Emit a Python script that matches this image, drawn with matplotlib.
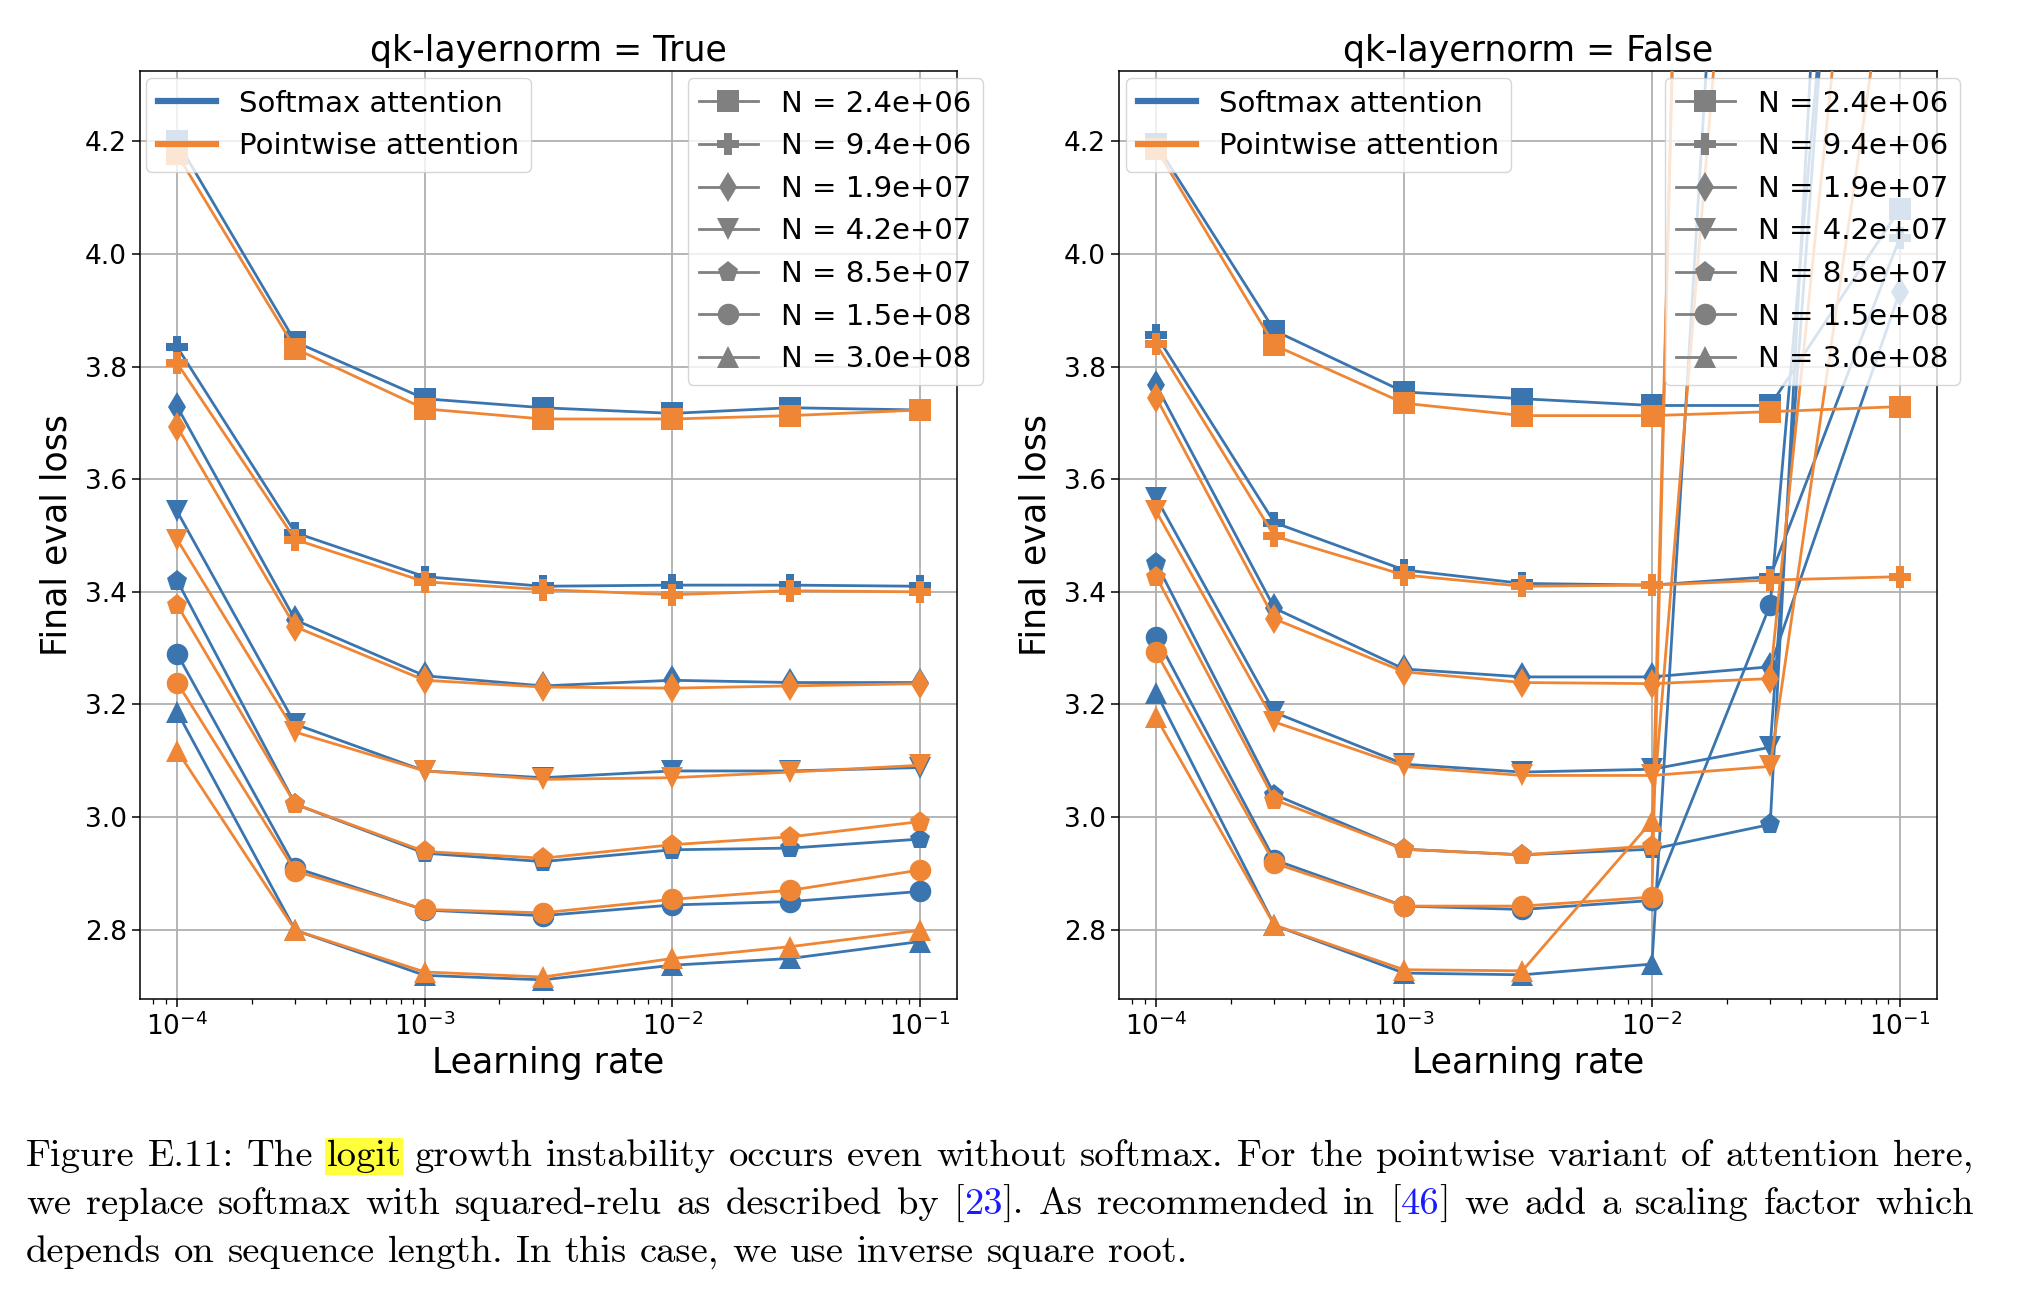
import numpy as np
import matplotlib
matplotlib.use("Agg")
import matplotlib.pyplot as plt
from matplotlib.lines import Line2D

# ---------------- data ----------------
learning_rates = [1e-4, 3e-4, 1e-3, 3e-3, 1e-2, 3e-2, 1e-1]
n_labels = ["2.4e+06", "9.4e+06", "1.9e+07", "4.2e+07", "8.5e+07", "1.5e+08", "3.0e+08"]
markers = ["s", "P", "d", "v", "p", "o", "^"]
panel_titles = ["qk-layernorm = True", "qk-layernorm = False"]
attention_labels = ["Softmax attention", "Pointwise attention"]
y_ticks = [2.8, 3.0, 3.2, 3.4, 3.6, 3.8, 4.0, 4.2]

# qk-layernorm = True, softmax attention (one row per N)
ln_true_softmax = [
    [4.200, 3.844, 3.743, 3.727, 3.717, 3.727, 3.723],
    [3.835, 3.505, 3.427, 3.410, 3.412, 3.412, 3.410],
    [3.729, 3.350, 3.251, 3.233, 3.243, 3.239, 3.239],
    [3.543, 3.165, 3.082, 3.070, 3.082, 3.082, 3.088],
    [3.420, 3.023, 2.936, 2.921, 2.942, 2.945, 2.961],
    [3.290, 2.910, 2.835, 2.825, 2.844, 2.850, 2.868],
    [3.187, 2.799, 2.719, 2.711, 2.737, 2.749, 2.779],
]
# qk-layernorm = True, pointwise attention
ln_true_pointwise = [
    [4.177, 3.832, 3.725, 3.707, 3.707, 3.713, 3.723],
    [3.806, 3.493, 3.418, 3.404, 3.395, 3.402, 3.400],
    [3.693, 3.338, 3.243, 3.231, 3.229, 3.233, 3.237],
    [3.493, 3.151, 3.082, 3.067, 3.070, 3.080, 3.092],
    [3.377, 3.023, 2.939, 2.927, 2.951, 2.965, 2.992],
    [3.239, 2.904, 2.836, 2.830, 2.854, 2.870, 2.906],
    [3.118, 2.799, 2.725, 2.716, 2.749, 2.770, 2.799],
]
# qk-layernorm = False, softmax attention (values above the axis top are estimates; nan = not visible)
ln_false_softmax = [
    [4.195, 3.864, 3.755, 3.743, 3.731, 3.731, 4.080],
    [3.856, 3.523, 3.439, 3.415, 3.412, 3.427, 4.029],
    [3.767, 3.371, 3.263, 3.249, 3.249, 3.267, 3.933],
    [3.567, 3.186, 3.094, 3.080, 3.085, 3.124, 6.300],
    [3.451, 3.040, 2.943, 2.933, 2.943, 2.987, 7.300],
    [3.320, 2.924, 2.842, 2.836, 2.852, 3.377, 6.000],
    [3.221, 2.808, 2.723, 2.720, 2.739, 6.200, np.nan],
]
# qk-layernorm = False, pointwise attention
ln_false_pointwise = [
    [4.187, 3.838, 3.735, 3.713, 3.713, 3.720, 3.729],
    [3.840, 3.499, 3.430, 3.410, 3.412, 3.421, 3.427],
    [3.745, 3.352, 3.258, 3.239, 3.237, 3.246, 5.500],
    [3.543, 3.169, 3.090, 3.074, 3.074, 3.090, 4.680],
    [3.427, 3.031, 2.943, 2.933, 2.949, 11.00, np.nan],
    [3.293, 2.918, 2.842, 2.842, 2.858, 11.50, np.nan],
    [3.177, 2.808, 2.729, 2.727, 2.993, 5.550, np.nan],
]

caption_lines = [
    [("Figure E.11: The ", "black", False), ("logit", "black", True),
     (" growth instability occurs even without softmax. For the pointwise variant of attention here,", "black", False)],
    [("we replace softmax with squared-relu as described by [", "black", False), ("23", "#1a1aff", False),
     ("]. As recommended in [", "black", False), ("46", "#1a1aff", False),
     ("] we add a scaling factor which", "black", False)],
    [("depends on sequence length. In this case, we use inverse square root.", "black", False)],
]

# ---------------- style ----------------
BLUE = "#3b75af"
ORANGE = "#ef8636"
W, H = 2030, 1292
DPI = 100
fig = plt.figure(figsize=(W / DPI, H / DPI), dpi=DPI)
fig.patch.set_facecolor("white")

TICK_FS = 19
LEG_FS = 21
TITLE_FS = 25
LABEL_FS = 25
MS = 15.5
LW = 2.0

ax_boxes = [
    [140 / W, 1 - 999 / H, 817 / W, (999 - 71) / H],
    [1119 / W, 1 - 999 / H, 818 / W, (999 - 71) / H],
]
leg1_anchor = [(146 / W, 1 - 78 / H), (1126 / W, 1 - 78 / H)]
leg2_anchor = [(983 / W, 1 - 78 / H), (1960 / W, 1 - 78 / H)]

panels = [(ln_true_softmax, ln_true_pointwise), (ln_false_softmax, ln_false_pointwise)]

for p, (soft, point) in enumerate(panels):
    ax = fig.add_axes(ax_boxes[p])
    for series, color in ((soft, BLUE), (point, ORANGE)):
        for i, vals in enumerate(series):
            ax.plot(learning_rates, vals, color=color, marker=markers[i],
                    markersize=MS, lw=LW, markeredgewidth=0, zorder=3)
    ax.set_xscale("log")
    ax.set_ylim(2.677, 4.325)
    ax.set_yticks(y_ticks)
    ax.set_yticklabels([f"{v:.1f}" for v in y_ticks])
    ax.grid(True, which="major", color="#b0b0b0", lw=1.3)
    ax.set_axisbelow(True)
    ax.tick_params(axis="both", which="major", labelsize=TICK_FS, length=6, width=1.1)
    ax.tick_params(axis="both", which="minor", length=3.5, width=0.9)
    for s in ax.spines.values():
        s.set_linewidth(1.1)
    ax.set_title(panel_titles[p], fontsize=TITLE_FS, pad=7)
    ax.set_xlabel("Learning rate", fontsize=LABEL_FS, labelpad=4)
    ax.set_ylabel("Final eval loss", fontsize=LABEL_FS, labelpad=8)

    h1 = [Line2D([], [], color=BLUE, lw=4.5), Line2D([], [], color=ORANGE, lw=4.5)]
    leg1 = ax.legend(h1, attention_labels, loc="upper left", bbox_to_anchor=leg1_anchor[p],
                     bbox_transform=fig.transFigure, borderaxespad=0, fontsize=LEG_FS)
    ax.add_artist(leg1)
    h2 = [Line2D([], [], color="gray", lw=2, marker=m, markersize=MS, markeredgewidth=0) for m in markers]
    ax.legend(h2, [f"N = {n}" for n in n_labels], loc="upper right", bbox_to_anchor=leg2_anchor[p],
              bbox_transform=fig.transFigure, borderaxespad=0, fontsize=LEG_FS)

# ---------------- caption ----------------
renderer = fig.canvas.get_renderer()
CAP_FAMILY = "cmr10"


def measure(s, size):
    t = fig.text(0, 0, s, fontfamily=CAP_FAMILY, fontsize=size)
    w = t.get_window_extent(renderer=renderer).width
    t.remove()
    return w


def split_words(segments):
    words, cur = [], []
    for text, color, hl in segments:
        parts = text.split(" ")
        for k, part in enumerate(parts):
            if k > 0:
                if cur:
                    words.append(cur)
                cur = []
            if part:
                cur.append((part, color, hl))
    if cur:
        words.append(cur)
    return words


# calibrate the caption size on the unjustified last line
base = 30
line3_w = measure("depends on sequence length. In this case, we use inverse square root.", base)
cap_fs = base * (1185 - 26) / line3_w

x_left, x_right = 26, 1974
baselines = [1166, 1214, 1262]
space_w = measure("x x", cap_fs) - measure("xx", cap_fs)

for li, segs in enumerate(caption_lines):
    words = split_words(segs)
    widths = [[measure(t, cap_fs) for (t, c, h) in w] for w in words]
    total = sum(sum(ws) for ws in widths)
    if li < len(caption_lines) - 1:
        gap = (x_right - x_left - total) / (len(words) - 1)
    else:
        gap = space_w
    x = x_left
    y = 1 - baselines[li] / H
    for w, ws in zip(words, widths):
        for (t, c, h), pw in zip(w, ws):
            kw = {}
            if h:
                kw["bbox"] = dict(facecolor="#ffff3c", edgecolor="none", pad=1.5)
            fig.text(x / W, y, t, fontfamily=CAP_FAMILY, fontsize=cap_fs, color=c,
                     ha="left", va="baseline", **kw)
            x += pw
        x += gap

fig.savefig("out.png", dpi=DPI, facecolor="white")
